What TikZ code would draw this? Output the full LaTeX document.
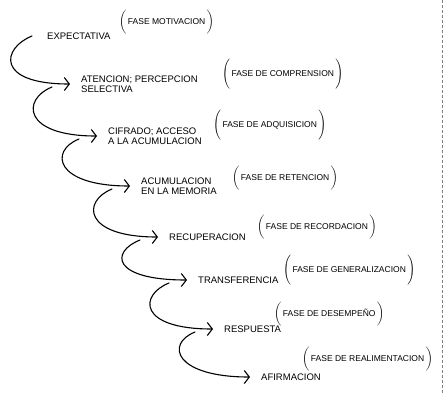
\documentclass[tikz,border=0pt]{standalone}
\usepackage{fontspec}
\setmainfont{Liberation Sans}
\usetikzlibrary{arrows.meta,positioning,calc}
\newcommand{\fase}[2][\bigg]{$#1($\,FASE #2\,$#1)$}

\begin{document}
\begin{tikzpicture}[
  x=1pt, y=-1pt,
  node distance=11pt,
  paso/.style={inner sep=0pt, align=left, font=\fontsize{9.5}{10.5}\selectfont},
  fase/.style={inner sep=0pt, anchor=west, font=\fontsize{8.5}{10}\selectfont},
  flow/.style={-{Straight Barb[length=5pt,width=13pt]}, line width=1.1pt, line cap=round},
  borde/.style={densely dashed, gray, thin}
]
  \useasboundingbox (0,0) rectangle (444,394);

  % puntas de flecha
  \coordinate (a2) at (70,84);
  \coordinate (a3) at (97,136);
  \coordinate (a4) at (130,186);
  \coordinate (a5) at (158,237);
  \coordinate (a6) at (187,280);
  \coordinate (a7) at (213,329);
  \coordinate (a8) at (250,377);

  % etapas
  \node[paso, anchor=west] (t1) at (47,36) {EXPECTATIVA};
  \node[paso, right=of a2] (t2) {ATENCION; PERCEPCION\\SELECTIVA};
  \node[paso, right=of a3] (t3) {CIFRADO; ACCESO\\A LA ACUMULACION};
  \node[paso, right=of a4] (t4) {ACUMULACION\\EN LA MEMORIA};
  \node[paso, right=of a5] (t5) {RECUPERACION};
  \node[paso, right=of a6] (t6) {TRANSFERENCIA};
  \node[paso, right=of a7] (t7) {RESPUESTA};
  \node[paso, right=of a8] (t8) {AFIRMACION};

  % fases
  \node[fase] (f1) at (119,22)  {\fase{MOTIVACION}};
  \node[fase] (f2) at (222,74)  {\fase[\Bigg]{DE COMPRENSION}};
  \node[fase] (f3) at (213,125) {\fase[\Bigg]{DE ADQUISICION}};
  \node[fase] (f4) at (232,178) {\fase{DE RETENCION}};
  \node[fase] (f5) at (257,227) {\fase{DE RECORDACION}};
  \node[fase] (f6) at (283,270) {\fase[\Bigg]{DE GENERALIZACION}};
  \node[fase] (f7) at (274,314) {\fase{DE DESEMPEÑO}};
  \node[fase] (f8) at (302,359) {\fase{DE REALIMENTACION}};

  \coordinate (s1) at ($(t1.west)+(-15,0)$);
  \foreach \i in {2,...,7}
    \coordinate (s\i) at ($(a\i)+(-18,3)$);
  \foreach \i/\j in {1/2,2/3,3/4,4/5,5/6,6/7,7/8}
    \draw[flow] (s\i) .. controls +(-30,12) and +(-75,0) .. (a\j);

  \draw[borde] (442,0) -- (442,394);
\end{tikzpicture}
\end{document}
